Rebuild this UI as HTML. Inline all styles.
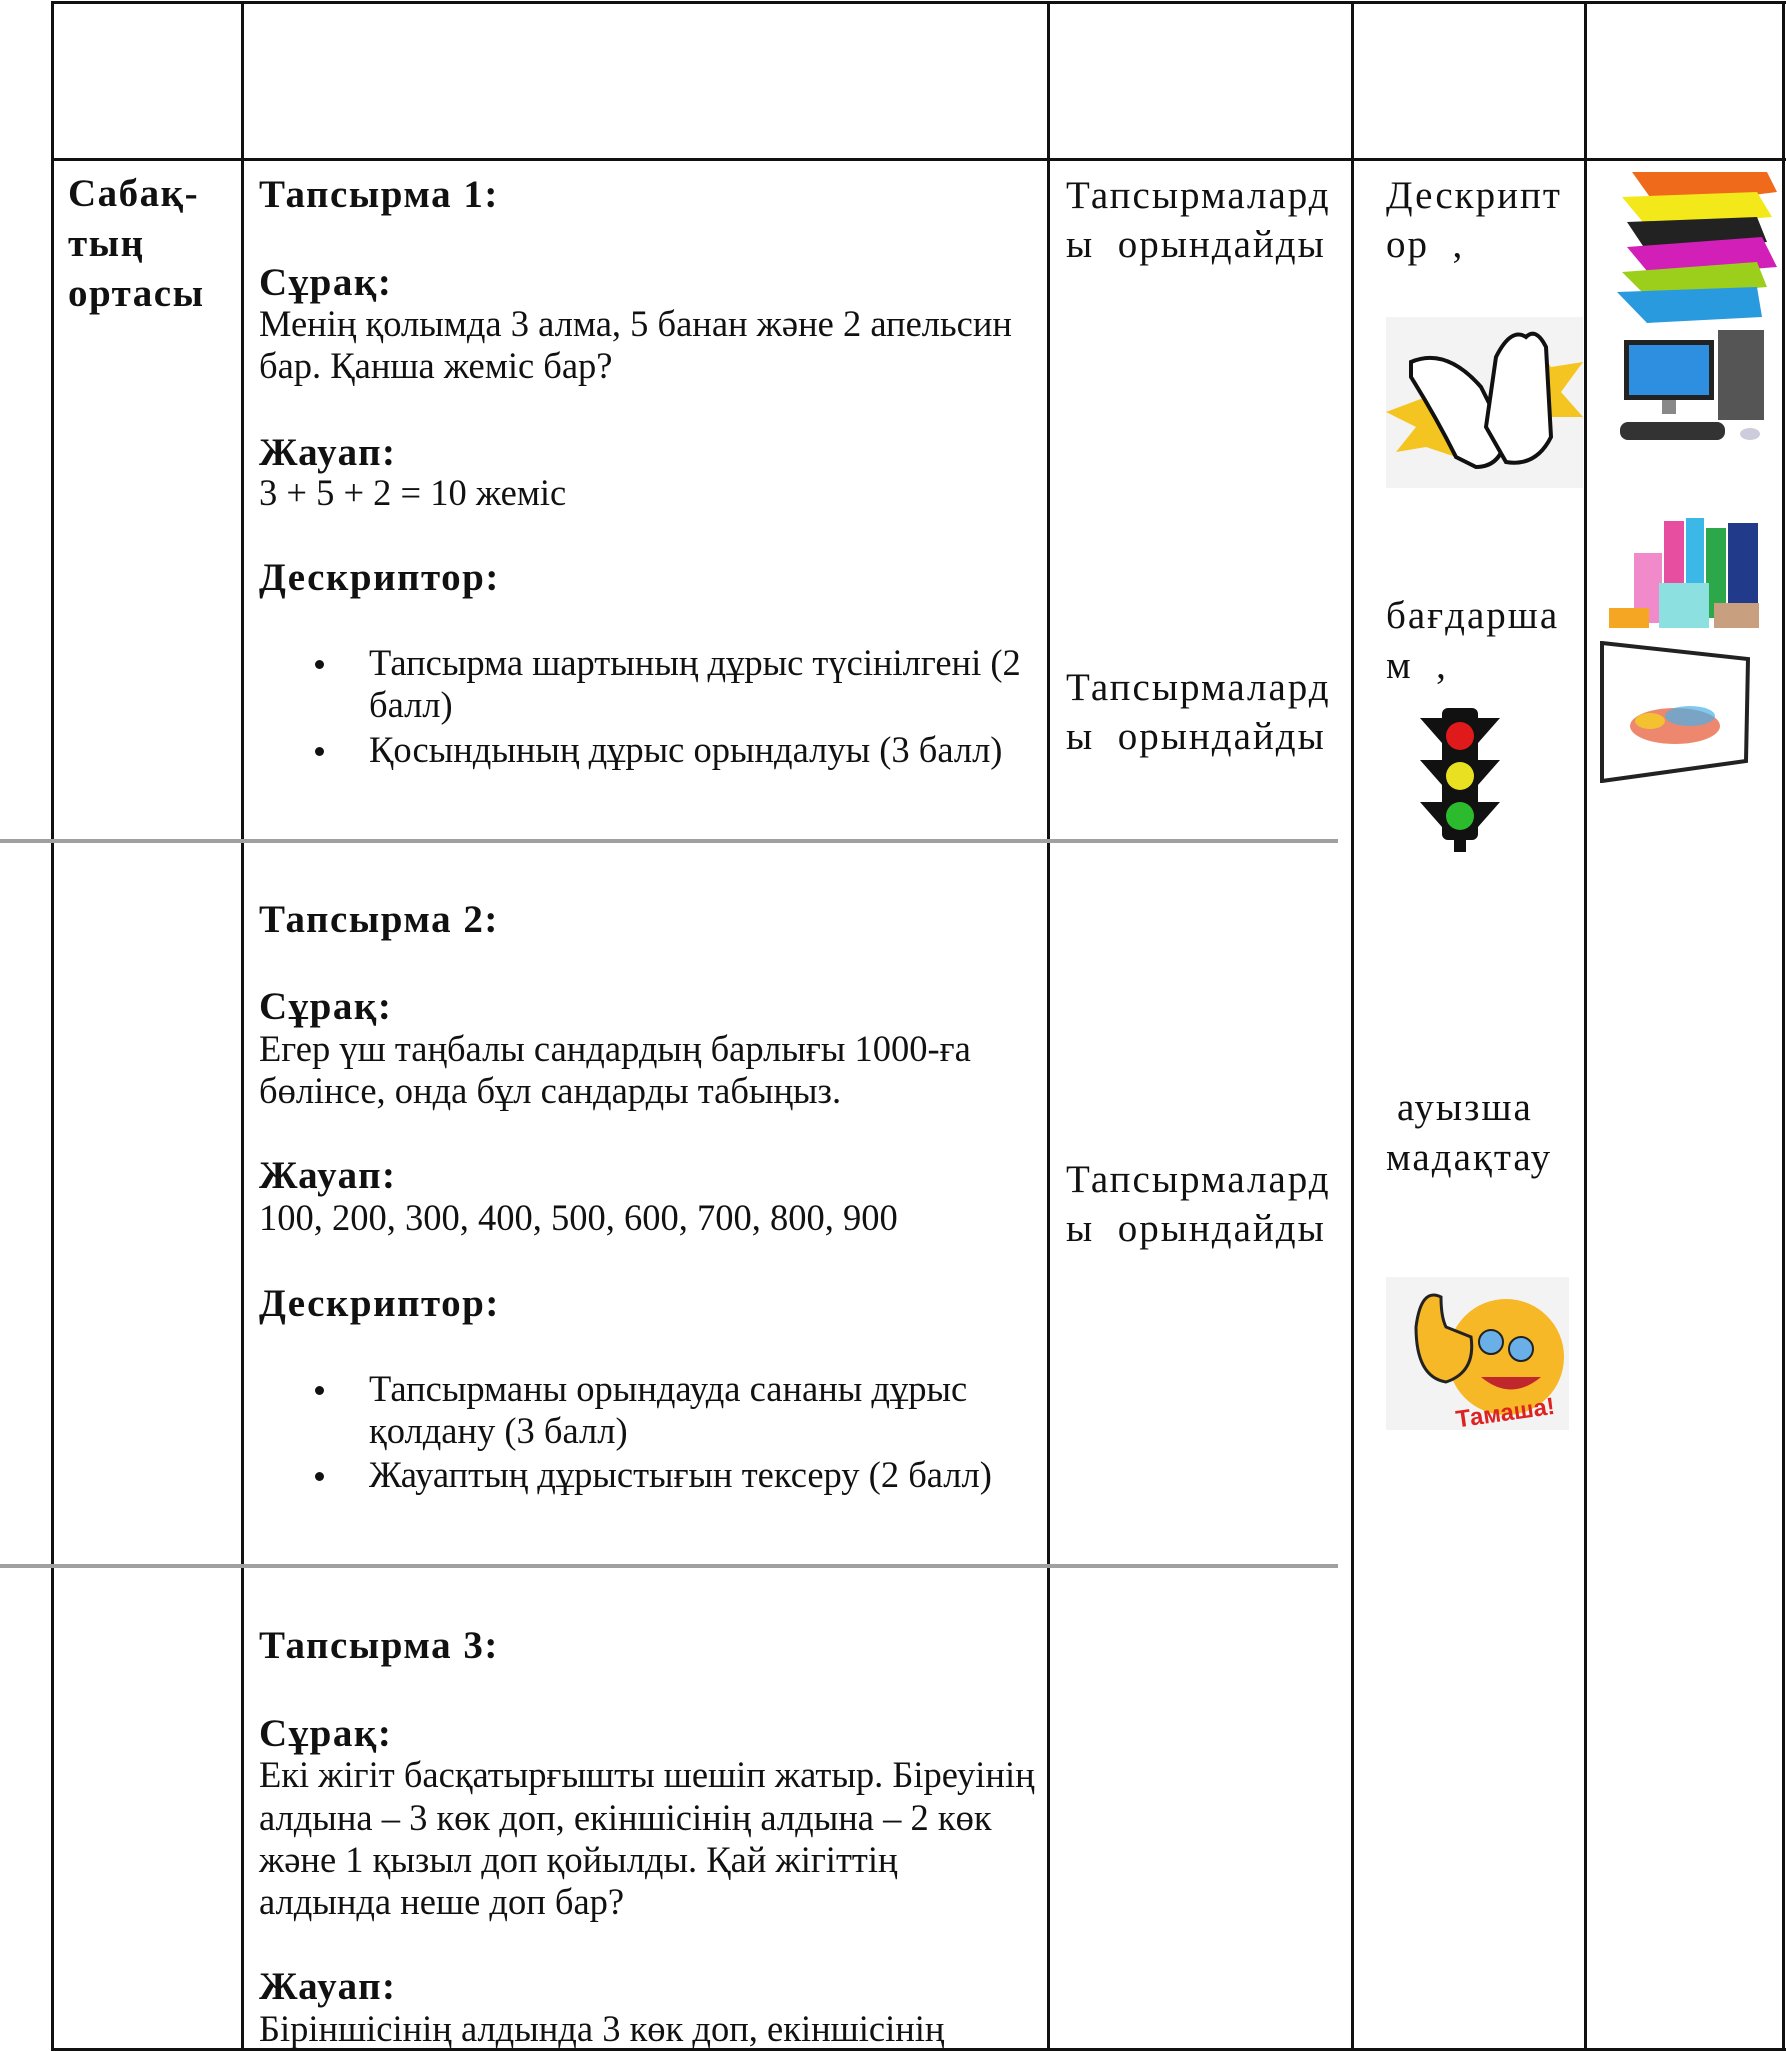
<!DOCTYPE html>
<html><head><meta charset="utf-8"><style>
body{margin:0;width:1786px;height:2052px;position:relative;background:#fff;overflow:hidden;font-family:"Liberation Serif","Noto Serif CJK SC",serif;color:#111}
.v{position:absolute;width:3px;background:#111}
.h{position:absolute;height:3px;background:#111}
.g{position:absolute;height:4px;background:#a0a0a0}
.t{position:absolute;font-size:36.5px;line-height:42px;white-space:nowrap}
.b{font-weight:bold;font-size:39px;letter-spacing:1.5px}
.w{font-size:39px;letter-spacing:2px}
.dot{position:absolute;width:9px;height:9px;border-radius:50%;background:#111}
</style></head><body>
<div class="h" style="left:51px;top:1px;width:1735px"></div>
<div class="h" style="left:51px;top:158px;width:1735px"></div>
<div class="h" style="left:51px;top:2048px;width:1735px"></div>
<div class="v" style="left:51px;top:1px;height:2050px"></div>
<div class="v" style="left:241px;top:1px;height:2050px"></div>
<div class="v" style="left:1047px;top:1px;height:2050px"></div>
<div class="v" style="left:1351px;top:1px;height:2050px"></div>
<div class="v" style="left:1584px;top:1px;height:2050px"></div>
<div class="v" style="left:1782px;top:1px;height:2050px"></div>
<div class="g" style="left:0;top:839px;width:1338px"></div>
<div class="g" style="left:0;top:1564px;width:1338px"></div>

<div class="t b" style="left:68px;top:173px">Сабақ-</div>
<div class="t b" style="left:68px;top:223px">тың</div>
<div class="t b" style="left:68px;top:273px">ортасы</div>

<div class="t b" style="left:259px;top:174px">Тапсырма 1:</div>
<div class="t b" style="left:259px;top:262px">Сұрақ:</div>
<div class="t" style="left:259px;top:303px">Менің қолымда 3 алма, 5 банан және 2 апельсин</div>
<div class="t" style="left:259px;top:345px">бар. Қанша жеміс бар?</div>
<div class="t b" style="left:259px;top:432px">Жауап:</div>
<div class="t" style="left:259px;top:472px">3 + 5 + 2 = 10 жеміс</div>
<div class="t b" style="left:259px;top:557px">Дескриптор:</div>
<div class="dot" style="left:315px;top:660px"></div>
<div class="t" style="left:369px;top:642px">Тапсырма шартының дұрыс түсінілгені (2</div>
<div class="t" style="left:369px;top:684px">балл)</div>
<div class="dot" style="left:315px;top:747px"></div>
<div class="t" style="left:369px;top:729px">Қосындының дұрыс орындалуы (3 балл)</div>

<div class="t b" style="left:259px;top:899px">Тапсырма 2:</div>
<div class="t b" style="left:259px;top:986px">Сұрақ:</div>
<div class="t" style="left:259px;top:1028px">Егер үш таңбалы сандардың барлығы 1000-ға</div>
<div class="t" style="left:259px;top:1070px">бөлінсе, онда бұл сандарды табыңыз.</div>
<div class="t b" style="left:259px;top:1155px">Жауап:</div>
<div class="t" style="left:259px;top:1197px">100, 200, 300, 400, 500, 600, 700, 800, 900</div>
<div class="t b" style="left:259px;top:1283px">Дескриптор:</div>
<div class="dot" style="left:315px;top:1386px"></div>
<div class="t" style="left:369px;top:1368px">Тапсырманы орындауда сананы дұрыс</div>
<div class="t" style="left:369px;top:1410px">қолдану (3 балл)</div>
<div class="dot" style="left:315px;top:1472px"></div>
<div class="t" style="left:369px;top:1454px">Жауаптың дұрыстығын тексеру (2 балл)</div>

<div class="t b" style="left:259px;top:1625px">Тапсырма 3:</div>
<div class="t b" style="left:259px;top:1713px">Сұрақ:</div>
<div class="t" style="left:259px;top:1754px">Екі жігіт басқатырғышты шешіп жатыр. Біреуінің</div>
<div class="t" style="left:259px;top:1797px">алдына – 3 көк доп, екіншісінің алдына – 2 көк</div>
<div class="t" style="left:259px;top:1839px">және 1 қызыл доп қойылды. Қай жігіттің</div>
<div class="t" style="left:259px;top:1881px">алдында неше доп бар?</div>
<div class="t b" style="left:259px;top:1966px">Жауап:</div>
<div class="t" style="left:259px;top:2008px">Біріншісінің алдында 3 көк доп, екіншісінің</div>

<div class="t w" style="left:1066px;top:175px">Тапсырмалард</div>
<div class="t w" style="left:1066px;top:224px">ы &nbsp;орындайды</div>
<div class="t w" style="left:1066px;top:667px">Тапсырмалард</div>
<div class="t w" style="left:1066px;top:716px">ы &nbsp;орындайды</div>
<div class="t w" style="left:1066px;top:1159px">Тапсырмалард</div>
<div class="t w" style="left:1066px;top:1208px">ы &nbsp;орындайды</div>

<div class="t w" style="left:1386px;top:175px">Дескрипт</div>
<div class="t w" style="left:1386px;top:224px">ор &nbsp;,</div>
<div class="t w" style="left:1386px;top:595px">бағдарша</div>
<div class="t w" style="left:1386px;top:645px">м &nbsp;,</div>
<div class="t w" style="left:1397px;top:1087px">ауызша</div>
<div class="t w" style="left:1386px;top:1137px">мадақтау</div>

<svg style="position:absolute;left:1386px;top:317px" width="197" height="171" viewBox="0 0 197 171">
<rect width="197" height="171" fill="#f3f3f3"/>
<polygon points="0,95 40,80 30,55 60,75 75,60 70,140 40,130 10,135 30,110" fill="#f4c520"/>
<polygon points="150,30 165,50 197,45 175,75 197,100 160,100 150,125" fill="#f4c520"/>
<path d="M25,45 Q60,30 95,70 L120,120 Q115,150 90,150 L70,140 Q50,100 25,60 Z" fill="#fff" stroke="#111" stroke-width="4"/>
<path d="M110,40 Q125,10 140,20 Q150,10 160,30 L165,120 Q150,150 120,145 L100,110 Z" fill="#fff" stroke="#111" stroke-width="4"/>
</svg>
<svg style="position:absolute;left:1420px;top:708px" width="80" height="144" viewBox="0 0 80 144">
<rect x="22" y="0" width="36" height="132" rx="6" fill="#111"/>
<polygon points="0,10 22,10 22,35" fill="#111"/><polygon points="80,10 58,10 58,35" fill="#111"/>
<polygon points="0,52 22,52 22,77" fill="#111"/><polygon points="80,52 58,52 58,77" fill="#111"/>
<polygon points="0,94 22,94 22,119" fill="#111"/><polygon points="80,94 58,94 58,119" fill="#111"/>
<rect x="34" y="130" width="12" height="14" fill="#111"/>
<circle cx="40" cy="28" r="14" fill="#e01a1a"/><circle cx="40" cy="68" r="14" fill="#e8e020"/><circle cx="40" cy="108" r="14" fill="#2cbb2c"/>
</svg>
<svg style="position:absolute;left:1386px;top:1277px" width="183" height="153" viewBox="0 0 183 153">
<rect width="183" height="153" fill="#f3f3f3"/>
<circle cx="120" cy="80" r="58" fill="#f6b827"/>
<circle cx="105" cy="65" r="12" fill="#6ab0e8" stroke="#222" stroke-width="2"/><circle cx="135" cy="72" r="12" fill="#6ab0e8" stroke="#222" stroke-width="2"/>
<path d="M95,100 Q125,125 155,100" fill="#c0272d"/>
<path d="M30,50 Q35,10 55,20 Q55,40 60,50 L85,60 Q90,95 60,105 Q30,100 30,50Z" fill="#f6b827" stroke="#222" stroke-width="3"/>
<text x="70" y="145" font-family="Liberation Sans" font-weight="bold" font-size="24" fill="#d22" transform="rotate(-8 110 140)">Тамаша!</text>
</svg>

<svg style="position:absolute;left:1617px;top:167px" width="163" height="156" viewBox="0 0 163 156">
<polygon points="15,5 150,5 160,25 40,40" fill="#f06a1c"/>
<polygon points="5,30 140,25 155,50 30,60" fill="#f3e81a"/>
<polygon points="10,55 140,50 150,75 30,85" fill="#222"/>
<polygon points="10,80 145,70 160,100 35,110" fill="#d21fb8"/>
<polygon points="5,105 140,95 150,120 30,130" fill="#9ccf1c"/>
<polygon points="0,125 140,120 145,150 30,156" fill="#2a9adf"/>
</svg>
<svg style="position:absolute;left:1620px;top:330px" width="150" height="121" viewBox="0 0 150 121">
<rect x="4" y="10" width="90" height="60" fill="#222"/><rect x="9" y="15" width="80" height="50" fill="#2e8fe0"/>
<rect x="42" y="70" width="14" height="14" fill="#888"/>
<rect x="98" y="0" width="46" height="90" fill="#555"/>
<rect x="0" y="92" width="105" height="18" rx="8" fill="#333"/>
<ellipse cx="130" cy="104" rx="10" ry="6" fill="#ccd"/>
</svg>
<svg style="position:absolute;left:1604px;top:513px" width="165" height="125" viewBox="0 0 165 125">
<rect x="60" y="8" width="20" height="90" fill="#e84ea0"/><rect x="82" y="5" width="18" height="95" fill="#3cb8e8"/>
<rect x="102" y="15" width="20" height="90" fill="#2ca84a"/><rect x="124" y="10" width="30" height="100" fill="#223a8a"/>
<rect x="30" y="40" width="28" height="70" fill="#f08acb"/><rect x="55" y="70" width="50" height="45" fill="#8de0e0"/>
<rect x="5" y="95" width="40" height="20" fill="#f5a623"/><rect x="110" y="90" width="45" height="25" fill="#c8a080"/>
</svg>
<svg style="position:absolute;left:1600px;top:641px" width="150" height="142" viewBox="0 0 150 142">
<polygon points="2,2 148,18 146,120 2,140" fill="#fff" stroke="#222" stroke-width="4"/>
<ellipse cx="75" cy="85" rx="45" ry="18" fill="#e86a4a" opacity="0.8"/>
<ellipse cx="90" cy="75" rx="25" ry="10" fill="#4ab0e8" opacity="0.7"/>
<ellipse cx="50" cy="80" rx="15" ry="8" fill="#f5d020" opacity="0.8"/>
</svg>
</body></html>
